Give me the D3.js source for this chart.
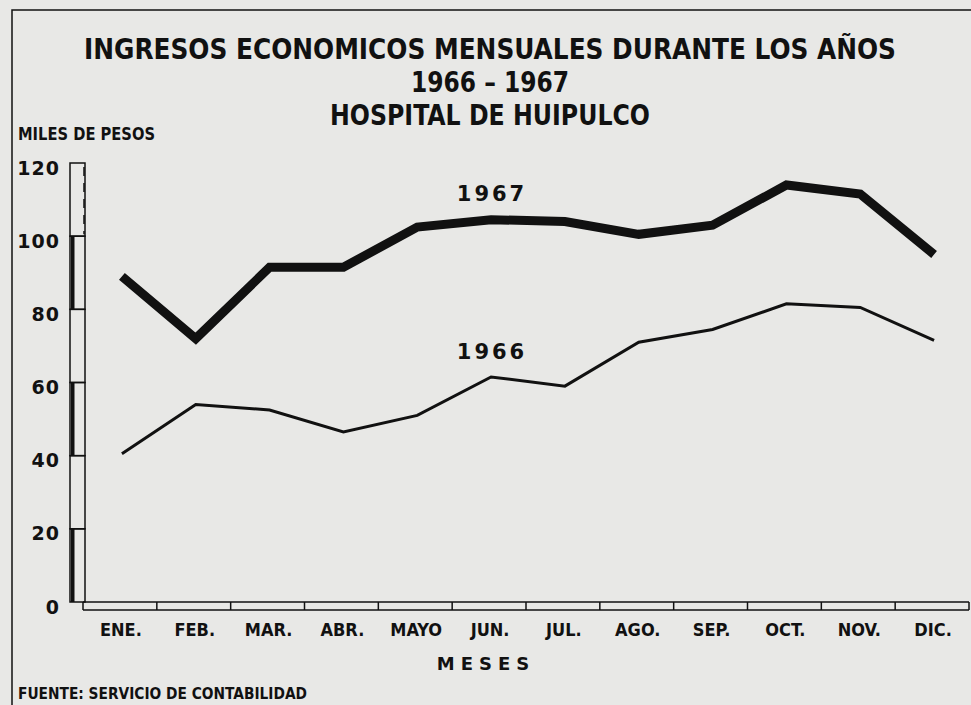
<!DOCTYPE html>
<html>
<head>
<meta charset="utf-8">
<script src="https://cdn.jsdelivr.net/npm/d3@7"></script>
<style>
  body { margin: 0; background: #e8e8e6; }
  svg { display: block; }
</style>
</head>
<body>
<script>
// Data (miles de pesos)
var months = ["ENE.", "FEB.", "MAR.", "ABR.", "MAYO", "JUN.", "JUL.", "AGO.", "SEP.", "OCT.", "NOV.", "DIC."];
var values1967 = [89, 72, 91.5, 91.5, 102.5, 104.5, 104, 100.5, 103, 114, 111.5, 95];
var values1966 = [40.5, 54, 52.5, 46.5, 51, 61.5, 59, 71, 74.5, 81.5, 80.5, 71.5];
var yTicks = [0, 20, 40, 60, 80, 100, 120];

var w = 971;
var h = 705;
var ink = "#111";

var svg = d3.select("body")
    .append("svg")
    .attr("width", w)
    .attr("height", h);

// scales
var x = d3.scaleBand()
    .domain(months)
    .range([83, 969]);

var y = d3.scaleLinear()
    .domain([0, 120])
    .range([602, 163]);

// frame of the plate
svg.append("path")
    .attr("d", "M12,705 L12,10 L971,10")
    .attr("fill", "none")
    .attr("stroke", ink)
    .attr("stroke-width", 1.5);

// titles
var condensed = "'DejaVu Sans Condensed', 'DejaVu Sans', sans-serif";
var titles = [
    {t: "INGRESOS  ECONOMICOS  MENSUALES  DURANTE  LOS  AÑOS", y: 59, len: 812},
    {t: "1966 – 1967", y: 92, len: 158},
    {t: "HOSPITAL  DE  HUIPULCO", y: 125, len: 320}
];
svg.selectAll("text.title")
    .data(titles)
    .enter()
    .append("text")
    .attr("class", "title")
    .attr("x", 490)
    .attr("y", d => d.y)
    .attr("text-anchor", "middle")
    .attr("font-family", condensed)
    .attr("font-weight", "bold")
    .attr("font-size", "29px")
    .attr("textLength", d => d.len)
    .attr("lengthAdjust", "spacingAndGlyphs")
    .attr("fill", ink)
    .text(d => d.t);

svg.append("text")
    .attr("x", 18)
    .attr("y", 140)
    .attr("font-family", "'DejaVu Sans', sans-serif")
    .attr("font-weight", "bold")
    .attr("font-size", "17px")
    .attr("textLength", 137)
    .attr("lengthAdjust", "spacingAndGlyphs")
    .attr("fill", ink)
    .text("MILES DE PESOS");

// y axis: segmented scale bar
var barX = 70, barW = 15;
var segs = d3.pairs(yTicks);
svg.selectAll("rect.seg")
    .data(segs)
    .enter()
    .append("rect")
    .attr("class", "seg")
    .attr("x", barX)
    .attr("y", d => y(d[1]))
    .attr("width", barW)
    .attr("height", d => y(d[0]) - y(d[1]))
    .attr("fill", "none")
    .attr("stroke", ink)
    .attr("stroke-width", 1.5);

svg.selectAll("rect.fill")
    .data(segs.filter((d, i) => i % 2 === 0))
    .enter()
    .append("rect")
    .attr("class", "fill")
    .attr("x", barX + 1)
    .attr("y", d => y(d[1]))
    .attr("width", 3.5)
    .attr("height", d => y(d[0]) - y(d[1]))
    .attr("fill", ink);

// dashed inner line on the top segment
svg.append("line")
    .attr("x1", barX + barW - 1)
    .attr("x2", barX + barW - 1)
    .attr("y1", y(120) + 4)
    .attr("y2", y(100) - 2)
    .attr("stroke", ink)
    .attr("stroke-width", 1.5)
    .attr("stroke-dasharray", "9,7");

svg.selectAll("text.ytick")
    .data(yTicks)
    .enter()
    .append("text")
    .attr("class", "ytick")
    .attr("x", 60)
    .attr("y", d => y(d) + 5)
    .attr("dy", "0.35em")
    .attr("text-anchor", "end")
    .attr("font-family", "'DejaVu Sans', sans-serif")
    .attr("font-weight", "bold")
    .attr("font-size", "19px")
    .attr("letter-spacing", "1px")
    .attr("fill", ink)
    .text(d => d);

// x axis: double rail with month dividers
var railTop = 602, railBottom = 610;
[railTop, railBottom].forEach(function (ry) {
    svg.append("line")
        .attr("x1", x.range()[0])
        .attr("x2", x.range()[1])
        .attr("y1", ry)
        .attr("y2", ry)
        .attr("stroke", ink)
        .attr("stroke-width", 1.5);
});
svg.selectAll("line.div")
    .data(months)
    .enter()
    .append("line")
    .attr("class", "div")
    .attr("x1", d => x(d))
    .attr("x2", d => x(d))
    .attr("y1", railTop)
    .attr("y2", railBottom)
    .attr("stroke", ink)
    .attr("stroke-width", 1.5);
svg.append("line")
    .attr("x1", x.range()[1])
    .attr("x2", x.range()[1])
    .attr("y1", railTop)
    .attr("y2", railBottom)
    .attr("stroke", ink)
    .attr("stroke-width", 1.5);

svg.selectAll("text.month")
    .data(months)
    .enter()
    .append("text")
    .attr("class", "month")
    .attr("x", d => x(d) + x.bandwidth() / 2 + 1)
    .attr("y", 636)
    .attr("text-anchor", "middle")
    .attr("font-family", condensed)
    .attr("font-weight", "bold")
    .attr("font-size", "18px")
    .attr("fill", ink)
    .text(d => d);

svg.append("text")
    .attr("x", 486)
    .attr("y", 670)
    .attr("text-anchor", "middle")
    .attr("font-family", "'DejaVu Sans', sans-serif")
    .attr("font-weight", "bold")
    .attr("font-size", "18px")
    .attr("letter-spacing", "6px")
    .attr("fill", ink)
    .text("MESES");

svg.append("text")
    .attr("x", 18)
    .attr("y", 699)
    .attr("font-family", "'DejaVu Sans', sans-serif")
    .attr("font-weight", "bold")
    .attr("font-size", "15px")
    .attr("textLength", 289)
    .attr("lengthAdjust", "spacingAndGlyphs")
    .attr("fill", ink)
    .text("FUENTE: SERVICIO DE CONTABILIDAD");

// lines
var line = d3.line()
    .x((d, i) => x(months[i]) + x.bandwidth() / 2 + 2)
    .y(d => y(d));

svg.append("path")
    .datum(values1967)
    .attr("d", line)
    .attr("fill", "none")
    .attr("stroke", ink)
    .attr("stroke-width", 9)
    .attr("stroke-linejoin", "miter");

svg.append("path")
    .datum(values1966)
    .attr("d", line)
    .attr("fill", "none")
    .attr("stroke", ink)
    .attr("stroke-width", 3);

// series labels
svg.selectAll("text.series")
    .data([{t: "1967", v: 111.5}, {t: "1966", v: 68.5}])
    .enter()
    .append("text")
    .attr("class", "series")
    .attr("x", 492)
    .attr("y", d => y(d.v))
    .attr("dy", "0.35em")
    .attr("text-anchor", "middle")
    .attr("font-family", "'DejaVu Sans', sans-serif")
    .attr("font-weight", "bold")
    .attr("font-size", "21px")
    .attr("letter-spacing", "3px")
    .attr("fill", ink)
    .text(d => d.t);
</script>
</body>
</html>
